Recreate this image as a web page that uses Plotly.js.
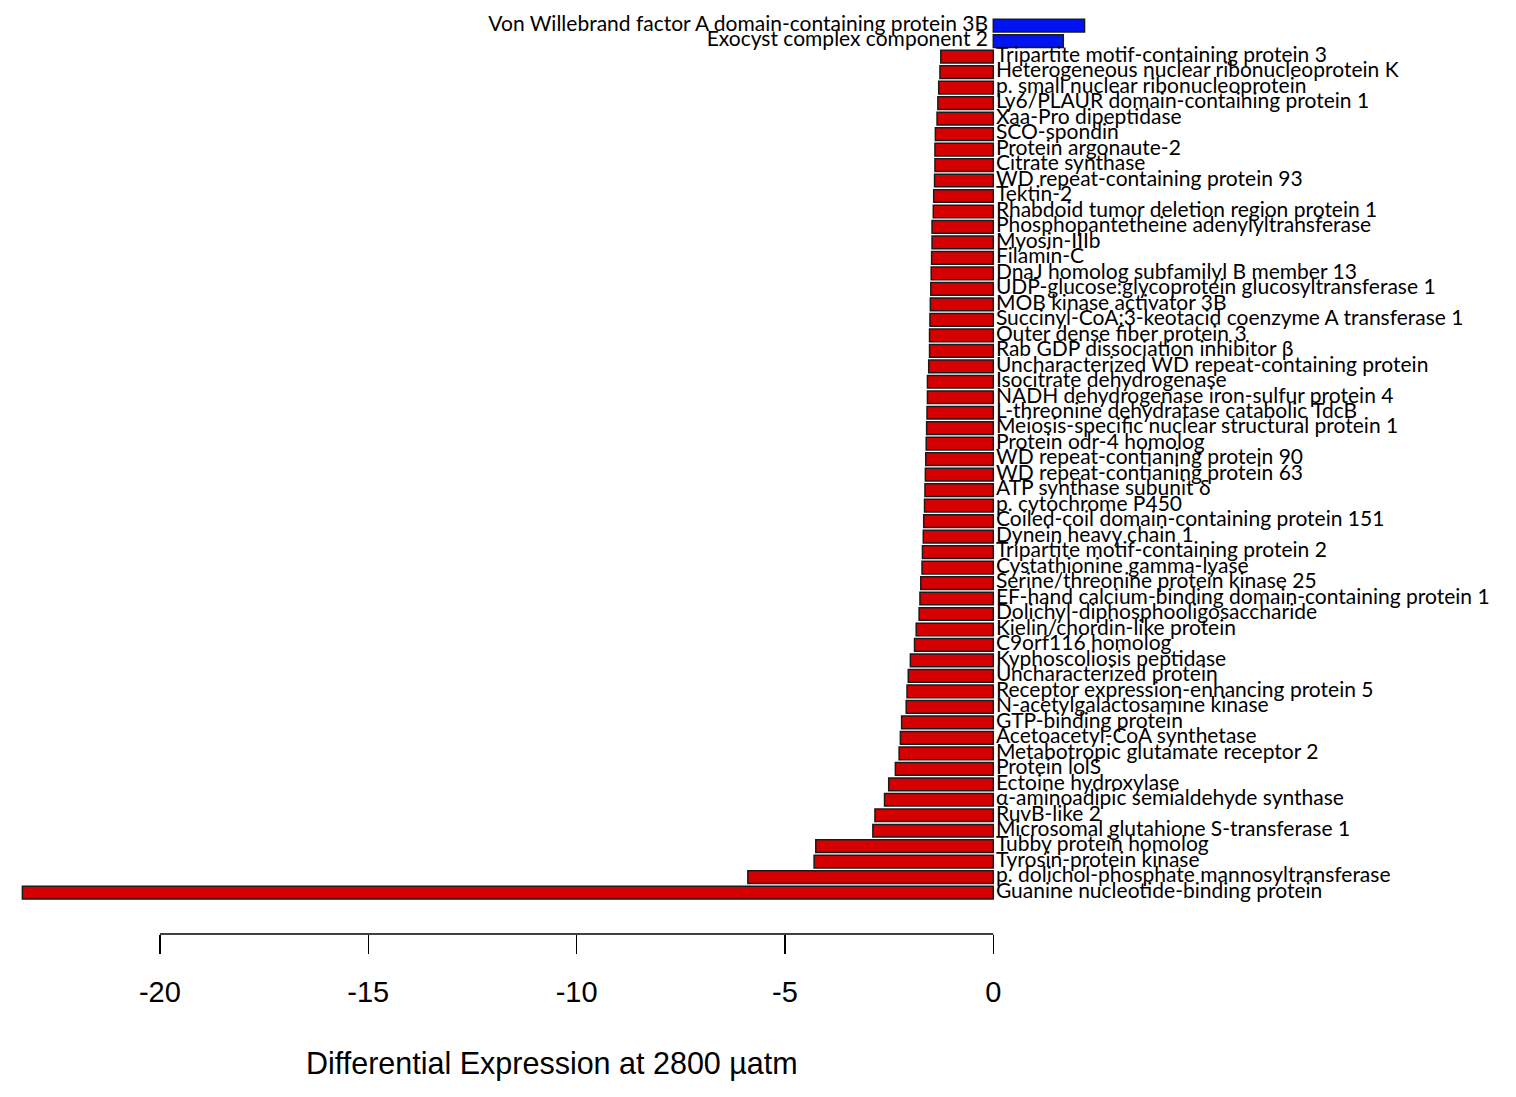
<!DOCTYPE html>
<html>
<head>
<meta charset="utf-8">
<script src="https://cdn.plot.ly/plotly-3.0.1.min.js"></script>
<style>html,body{margin:0;padding:0;background:#fff;}#chart{width:1516px;height:1097px;}</style>
</head>
<body>
<div id="chart"></div>
<script>
// Proteins, top to bottom
const proteins = [
  "Von Willebrand factor A domain-containing protein 3B",
  "Exocyst complex component 2",
  "Tripartite motif-containing protein 3",
  "Heterogeneous nuclear ribonucleoprotein K",
  "p. small nuclear ribonucleoprotein",
  "Ly6/PLAUR domain-containing protein 1",
  "Xaa-Pro dipeptidase",
  "SCO-spondin",
  "Protein argonaute-2",
  "Citrate synthase",
  "WD repeat-containing protein 93",
  "Tektin-2",
  "Rhabdoid tumor deletion region protein 1",
  "Phosphopantetheine adenylyltransferase",
  "Myosin-IIIb",
  "Filamin-C",
  "DnaJ homolog subfamilyl B member 13",
  "UDP-glucose:glycoprotein glucosyltransferase 1",
  "MOB kinase activator 3B",
  "Succinyl-CoA:3-keotacid coenzyme A transferase 1",
  "Outer dense fiber protein 3",
  "Rab GDP dissociation inhibitor β",
  "Uncharacterized WD repeat-containing protein",
  "Isocitrate dehydrogenase",
  "NADH dehydrogenase iron-sulfur protein 4",
  "L-threonine dehydratase catabolic TdcB",
  "Meiosis-specific nuclear structural protein 1",
  "Protein odr-4 homolog",
  "WD repeat-contianing protein 90",
  "WD repeat-contianing protein 63",
  "ATP synthase subunit δ",
  "p. cytochrome P450",
  "Coiled-coil domain-containing protein 151",
  "Dynein heavy chain 1",
  "Tripartite motif-containing protein 2",
  "Cystathionine gamma-lyase",
  "Serine/threonine protein kinase 25",
  "EF-hand calcium-binding domain-containing protein 1",
  "Dolichyl-diphosphooligosaccharide",
  "Kielin/chordin-like protein",
  "C9orf116 homolog",
  "Kyphoscoliosis peptidase",
  "Uncharacterized protein",
  "Receptor expression-enhancing protein 5",
  "N-acetylgalactosamine kinase",
  "GTP-binding protein",
  "Acetoacetyl-CoA synthetase",
  "Metabotropic glutamate receptor 2",
  "Protein lolS",
  "Ectoine hydroxylase",
  "α-aminoadipic semialdehyde synthase",
  "RuvB-like 2",
  "Microsomal glutahione S-transferase 1",
  "Tubby protein homolog",
  "Tyrosin-protein kinase",
  "p. dolichol-phosphate mannosyltransferase",
  "Guanine nucleotide-binding protein"
];

const expression = [
  2.19, 1.68, -1.26, -1.28, -1.31, -1.33, -1.35, -1.39, -1.40, -1.40,
  -1.41, -1.43, -1.44, -1.47, -1.47, -1.48, -1.49, -1.50, -1.51, -1.52,
  -1.53, -1.53, -1.55, -1.58, -1.58, -1.59, -1.60, -1.61, -1.62, -1.63,
  -1.64, -1.65, -1.67, -1.68, -1.70, -1.71, -1.74, -1.76, -1.78, -1.85,
  -1.89, -1.99, -2.04, -2.07, -2.09, -2.20, -2.23, -2.26, -2.35, -2.51,
  -2.61, -2.84, -2.89, -4.26, -4.30, -5.89, -23.30
];

const tickValues = [-20, -15, -10, -5, 0];
const tickLabels = ["-20", "-15", "-10", "-5", "0"];
const axisTitle = "Differential Expression at 2800 µatm";

const upColor = "#0014f2";
const downColor = "#d60000";

const bars = {
  type: "bar",
  orientation: "h",
  x: expression,
  y: proteins,
  marker: {
    color: expression.map(v => v > 0 ? upColor : downColor),
    line: {color: "#1a1a1a", width: 1.5}
  },
  hoverinfo: "x+y",
  showlegend: false
};

const labels = {
  type: "scatter",
  mode: "text",
  x: expression.map(() => 0),
  y: proteins,
  text: proteins,
  texttemplate: expression.map(v => v > 0 ? "%{text}\u2009\u2009" : "\u2009%{text}"),
  textposition: expression.map(v => v > 0 ? "middle left" : "middle right"),
  textfont: {family: "Lato, 'Open Sans', sans-serif", size: 21, color: "#000"},
  cliponaxis: false,
  hoverinfo: "skip",
  showlegend: false
};

const layout = {
  width: 1516,
  height: 1097,
  margin: {l: 10, r: 10, t: 0, b: 163},
  paper_bgcolor: "#fff",
  plot_bgcolor: "#fff",
  bargap: 0.18,
  xaxis: {
    range: [-23.597, 12.304],
    showgrid: false,
    zeroline: false,
    showline: false,
    tickmode: "array",
    tickvals: tickValues,
    ticktext: tickLabels,
    ticks: "outside",
    ticklen: 19,
    tickwidth: 1.3,
    tickcolor: "#000",
    ticklabelstandoff: 13,
    tickfont: {family: "'Liberation Sans', Arial, sans-serif", size: 29, color: "#000"}
  },
  yaxis: {
    type: "category",
    range: [58.67, -1.66],
    showgrid: false,
    zeroline: false,
    showline: false,
    showticklabels: false,
    ticks: ""
  },
  shapes: [{
    type: "line",
    xref: "x", yref: "paper",
    x0: tickValues[0], x1: tickValues[tickValues.length - 1],
    y0: 0, y1: 0,
    line: {color: "#000", width: 1.3}
  }],
  annotations: [{
    text: axisTitle,
    xref: "x", yref: "paper",
    x: -10.58, y: -0.139,
    xanchor: "center", yanchor: "middle",
    showarrow: false,
    font: {family: "'Liberation Sans', Arial, sans-serif", size: 30.5, color: "#000"}
  }]
};

Plotly.newPlot("chart", [bars, labels], layout, {staticPlot: true});
</script>
</body>
</html>
